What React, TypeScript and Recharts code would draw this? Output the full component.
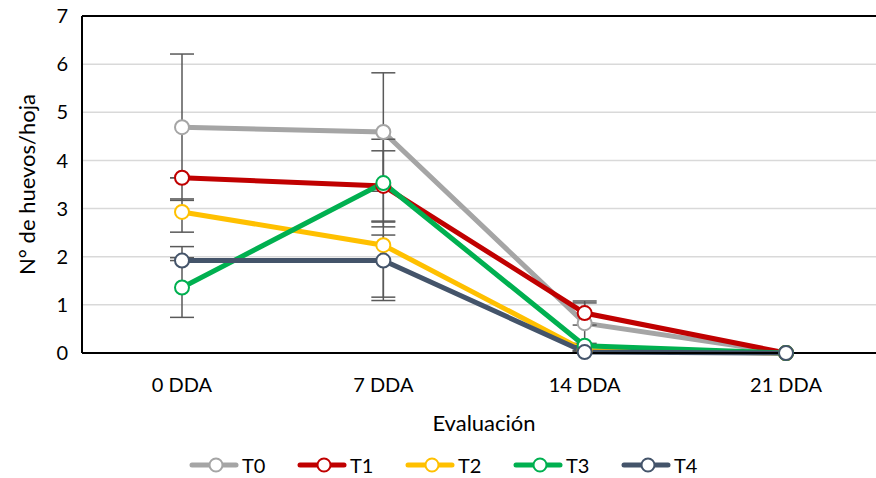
import React from "react";
import {
  LineChart,
  Line,
  XAxis,
  YAxis,
  CartesianGrid,
  ErrorBar,
  ReferenceLine,
} from "recharts";

const categorias = ["0 DDA", "7 DDA", "14 DDA", "21 DDA"];
const series = ["T0", "T1", "T2", "T3", "T4"];
const colores = ["#a5a5a5", "#c00000", "#ffc000", "#00b050", "#44546a"];

// valores promedio por tratamiento
const t0 = [4.69, 4.59, 0.62, 0];
const t1 = [3.64, 3.47, 0.83, 0];
const t2 = [2.93, 2.24, 0.05, 0];
const t3 = [1.36, 3.53, 0.15, 0];
const t4 = [1.92, 1.92, 0.02, 0];

// barras de error [abajo, arriba]
const e0 = [[1.52, 1.52], [1.23, 1.23], [0.42, 0.42], [0, 0]];
const e1 = [[0, 0], [0.73, 0.73], [0.25, 0.25], [0, 0]];
const e2 = [[0.42, 0.27], [1.08, 0.21], [0, 0], [0, 0]];
const e3 = [[0.62, 0.62], [0.91, 0.91], [0, 0], [0, 0]];
const e4 = [[0, 0.29], [0.83, 0.8], [0, 0], [0, 0]];

const yTicks = [0, 1, 2, 3, 4, 5, 6, 7];

const valores = [t0, t1, t2, t3, t4];
const errores = [e0, e1, e2, e3, e4];

const data = categorias.map((c, i) => {
  const row: any = { cat: c };
  series.forEach((s, k) => {
    row[s] = valores[k][i];
    row[s + "_err"] = errores[k][i];
  });
  return row;
});

const FONT = "Lato, 'Open Sans', sans-serif";

function Leyenda() {
  return (
    <div
      style={{
        position: "absolute",
        top: 453,
        left: 186,
        display: "flex",
        fontFamily: FONT,
        fontSize: 20,
        color: "#000",
      }}
    >
      {series.map((s, k) => (
        <div key={s} style={{ display: "flex", alignItems: "center", width: 108 }}>
          <svg width={56} height={20}>
            <line x1={6} y1={10} x2={50} y2={10} stroke={colores[k]} strokeWidth={5} strokeLinecap="round" />
            <circle cx={30} cy={10} r={6.5} fill="#fff" stroke={colores[k]} strokeWidth={2} />
          </svg>
          <span>{s}</span>
        </div>
      ))}
    </div>
  );
}

export default function App() {
  return (
    <div
      style={{
        position: "fixed",
        left: 0,
        top: 0,
        width: 876,
        height: 478,
        overflow: "hidden",
        background: "#fff",
      }}
    >
      <LineChart
        width={900}
        height={440}
        data={data}
        margin={{ top: 16, right: 14, left: 0, bottom: 0 }}
      >
        <CartesianGrid vertical={false} stroke="#d9d9d9" strokeWidth={1.5} />
        <XAxis
          dataKey="cat"
          height={87}
          padding={{ left: 100, right: 100 }}
          axisLine={{ stroke: "#000", strokeWidth: 2 }}
          tickLine={false}
          tick={{ fill: "#000", fontSize: 20, fontFamily: FONT }}
          tickMargin={19}
          label={{
            value: "Evaluación",
            position: "insideBottom",
            offset: 9,
            fill: "#000",
            fontSize: 22,
            fontFamily: FONT,
          }}
        />
        <YAxis
          width={82}
          domain={[0, 7]}
          ticks={yTicks}
          interval={0}
          axisLine={{ stroke: "#000", strokeWidth: 2 }}
          tickLine={false}
          tick={{ fill: "#000", fontSize: 20, fontFamily: FONT }}
          tickMargin={8}
          label={{
            value: "N° de huevos/hoja",
            angle: -90,
            position: "center",
            dx: -14,
            fill: "#000",
            fontSize: 22,
            fontFamily: FONT,
          }}
        />
        <ReferenceLine y={7} stroke="#000" strokeWidth={2} />
        {series.map((s, k) => (
          <Line
            key={s}
            dataKey={s}
            stroke={colores[k]}
            strokeWidth={5}
            isAnimationActive={false}
            dot={{ r: 7, fill: "#fff", stroke: colores[k], strokeWidth: 2 }}
            activeDot={false}
          >
            <ErrorBar
              dataKey={s + "_err"}
              direction="y"
              width={12}
              stroke="#595959"
              strokeWidth={1.5}
              isAnimationActive={false}
            />
          </Line>
        ))}
      </LineChart>
      <Leyenda />
    </div>
  );
}
